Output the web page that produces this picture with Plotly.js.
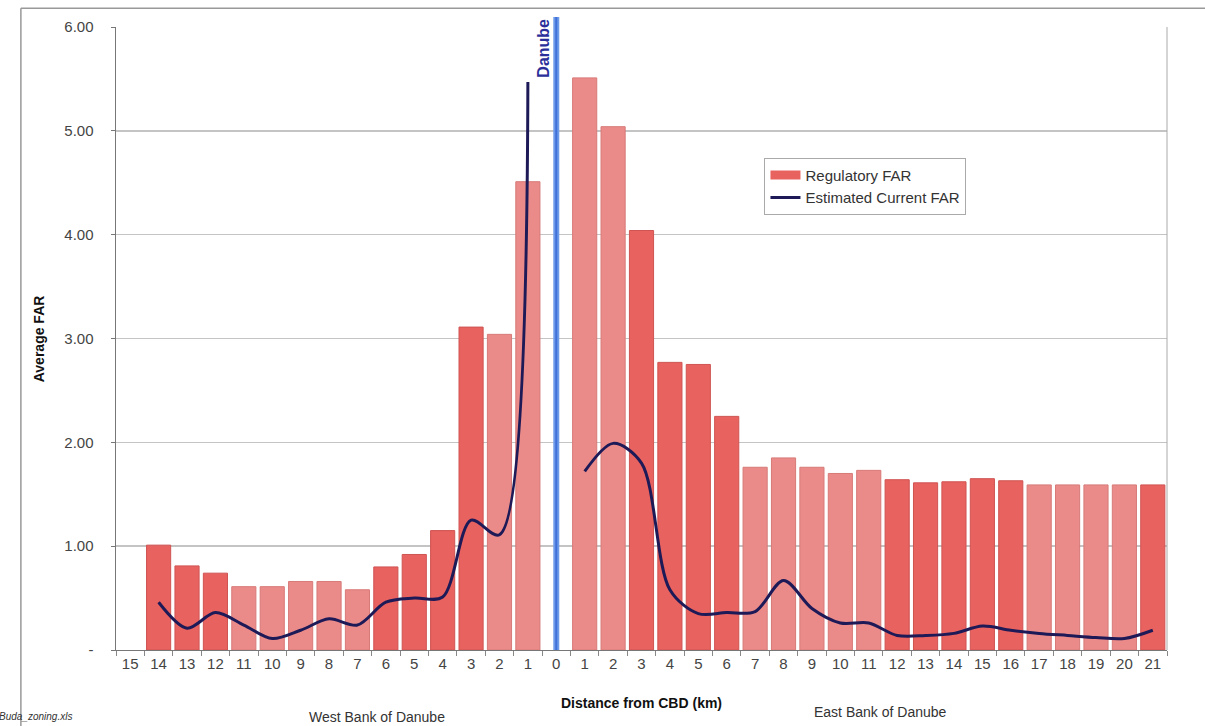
<!DOCTYPE html>
<html>
<head>
<meta charset="utf-8">
<script src="https://cdn.plot.ly/plotly-3.0.1.min.js"></script>
<style>html,body{margin:0;padding:0;background:#fff;}#chart{width:1205px;height:726px;}</style>
</head>
<body>
<div id="chart"></div>
<script>
// Distance labels (km) from west (Buda) to east (Pest)
const distanceLabels = ['15','14','13','12','11','10','9','8','7','6','5','4','3','2','1','0',
  '1','2','3','4','5','6','7','8','9','10','11','12','13','14','15','16','17','18','19','20','21'];
// Regulatory FAR (bars)
const regulatoryFAR = [null,1.01,0.81,0.74,0.61,0.61,0.66,0.66,0.58,0.80,0.92,1.15,3.11,3.04,4.51,null,
  5.51,5.04,4.04,2.77,2.75,2.25,1.76,1.85,1.76,1.70,1.73,1.64,1.61,1.62,1.65,1.63,1.59,1.59,1.59,1.59,1.59];
// Estimated current FAR (smoothed line)
const currentFAR = [null,0.46,0.21,0.36,0.24,0.11,0.19,0.30,0.24,0.46,0.50,0.51,1.25,1.11,5.47,null,
  1.72,1.99,1.80,0.58,0.35,0.36,0.37,0.67,0.40,0.26,0.26,0.14,0.14,0.16,0.23,0.19,0.16,0.14,0.12,0.11,0.19];
const yTickVals = [0,1,2,3,4,5,6];
const yTickText = ['-','1.00','2.00','3.00','4.00','5.00','6.00'];
const riverLabel = 'Danube';

const xPos = distanceLabels.map((_, i) => i);
const shadePattern = 'xddd lllll dddd ll x ll dddd lllll ddddd llll d'.replace(/ /g,'');
const DARK = '#e8625f', LIGHT = '#ea8b89';
const barColors = shadePattern.split('').map(c => c === 'l' ? LIGHT : DARK);
const barLines = shadePattern.split('').map(c => c === 'l' ? '#d77a78' : '#cf5452');
const riverIdx = distanceLabels.indexOf('0');
const n = distanceLabels.length;
const riverPaperX = (riverIdx + 0.5) / n;

const font = 'Liberation Sans, Arial, sans-serif';

const traces = [
  {
    type: 'bar', name: 'Regulatory FAR', x: xPos, y: regulatoryFAR,
    marker: {color: barColors, line: {color: barLines, width: 1}},
    hoverinfo: 'skip', showlegend: false
  },
  // legend key for the bars (wide swatch like the original)
  {
    type: 'scatter', mode: 'lines', name: 'Regulatory FAR', x: [null], y: [null],
    line: {color: DARK, width: 9}, hoverinfo: 'skip'
  },
  {
    type: 'scatter', mode: 'lines', name: 'Estimated Current FAR', x: xPos, y: currentFAR,
    line: {color: '#1d1a57', width: 3, shape: 'spline', smoothing: 0.9},
    connectgaps: false, hoverinfo: 'skip'
  }
];

const minorTicks = [];
for (let i = 0; i <= n; i++) minorTicks.push(i - 0.5);

const layout = {
  width: 1205, height: 726,
  margin: {l: 116, r: 38, t: 27, b: 76},
  paper_bgcolor: '#fff', plot_bgcolor: '#fff',
  bargap: 0.15,
  showlegend: true,
  legend: {
    x: 0.617, y: 0.79, xanchor: 'left', yanchor: 'top',
    bgcolor: '#fff', bordercolor: '#aaa', borderwidth: 1,
    font: {family: font, size: 15, color: '#333'},
    tracegroupgap: 2, itemwidth: 30
  },
  xaxis: {
    range: [-0.5, n - 0.5],
    tickvals: xPos, ticktext: distanceLabels,
    ticks: '', showgrid: false, zeroline: false,
    showline: true, linecolor: '#777', linewidth: 1,
    tickfont: {family: font, size: 15, color: '#444'},
    minor: {tickvals: minorTicks, ticks: 'outside', ticklen: 5, tickcolor: '#888', showgrid: false},
    fixedrange: true
  },
  yaxis: {
    range: [0, 6],
    tickvals: yTickVals, ticktext: yTickText,
    ticks: 'outside', ticklen: 4, tickcolor: '#777',
    ticklabelstandoff: 14,
    showgrid: true, gridcolor: '#c4c4c4', gridwidth: 1.5,
    zeroline: false, showline: true, linecolor: '#777', linewidth: 1.5,
    tickfont: {family: font, size: 15, color: '#444'},
    fixedrange: true
  },
  shapes: [
    // outer frame
    {type: 'line', xref: 'paper', yref: 'paper', x0: -0.0905, x1: 1.05, y0: 1.03, y1: 1.03, line: {color: '#999', width: 1.5}},
    {type: 'line', xref: 'paper', yref: 'paper', x0: -0.0905, x1: -0.0905, y0: 1.03, y1: -0.2, line: {color: '#999', width: 1.5}},
    // right plot border
    {type: 'line', xref: 'paper', yref: 'paper', x0: 1, x1: 1, y0: 0, y1: 1, line: {color: '#aaa', width: 1}},
    // Danube
    {type: 'line', xref: 'paper', yref: 'paper', x0: riverPaperX, x1: riverPaperX, y0: 0, y1: 1.016, line: {color: '#6d9bea', width: 6}},
    {type: 'line', xref: 'paper', yref: 'paper', x0: riverPaperX, x1: riverPaperX, y0: 0, y1: 1.016, line: {color: '#3f6fd8', width: 2}}
  ],
  annotations: [
    {text: riverLabel, xref: 'paper', yref: 'paper', x: riverPaperX - 0.0125, y: 1.016, xanchor: 'center', yanchor: 'top',
     textangle: -90, showarrow: false, font: {family: font, size: 16, color: '#2a2f9a', weight: 'bold'}},
    {text: '<b>Average FAR</b>', xref: 'paper', yref: 'paper', x: -0.083, y: 0.5, textangle: -90,
     showarrow: false, font: {family: font, size: 14, color: '#111'}},
    {text: '<b>Distance from CBD (km)</b>', xref: 'paper', yref: 'paper', x: 0.5, y: -0.085, yanchor: 'middle',
     showarrow: false, font: {family: font, size: 14, color: '#111'}},
    {text: 'West Bank of Danube', xref: 'paper', yref: 'paper', x: 0.182, y: -0.107, yanchor: 'middle',
     showarrow: false, font: {family: font, size: 14, color: '#333'}},
    {text: 'East Bank of Danube', xref: 'paper', yref: 'paper', x: 0.793, y: -0.1, yanchor: 'middle',
     showarrow: false, font: {family: font, size: 14, color: '#333'}},
    {text: '<i>Buda_zoning.xls</i>', xref: 'paper', yref: 'paper', x: -0.113, y: -0.107, xanchor: 'left', yanchor: 'middle',
     showarrow: false, font: {family: font, size: 10, color: '#333'}}
  ]
};

Plotly.newPlot('chart', traces, layout, {displayModeBar: false, staticPlot: true});
</script>
</body>
</html>
